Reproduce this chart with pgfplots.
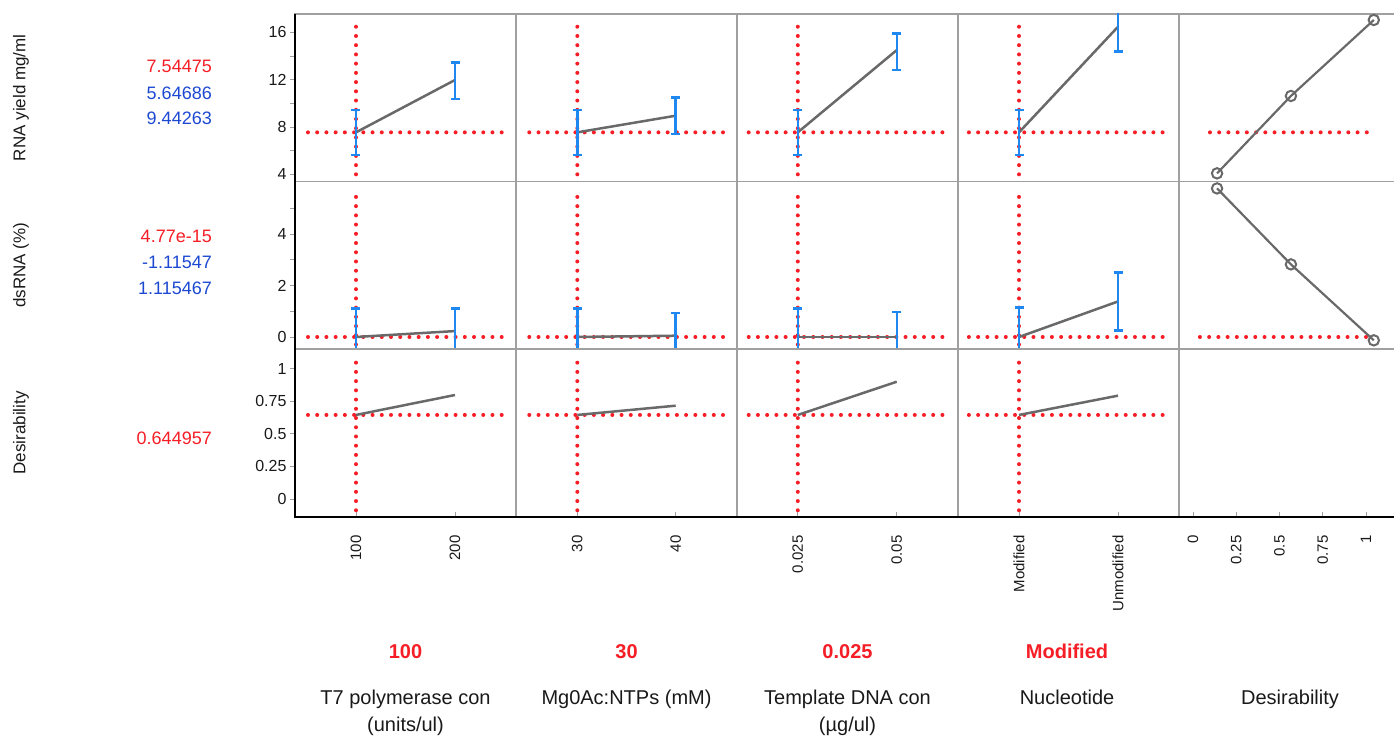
\documentclass[border=0pt]{standalone}
\usepackage{pgfplots}
\pgfplotsset{compat=1.18}
\usepackage{fontspec}
\setmainfont{Liberation Sans}
\definecolor{jred}{RGB}{246,30,38}
\definecolor{jblue}{RGB}{28,72,210}
\definecolor{ebblue}{RGB}{30,136,240}
\definecolor{lgray}{RGB}{105,105,105}
\definecolor{fgray}{RGB}{160,160,160}
\newcommand\ticklab{\fontsize{15}{17}\selectfont}
\newcommand\yticklab{\fontsize{16}{18}\selectfont}
\pgfplotsset{
  panel/.style={scale only axis, width=221pt, anchor=south west,
    axis line style={draw=fgray, line width=1.3pt},
    xtick=\empty, ytick=\empty, scaled ticks=false,
    tick align=outside,
    tick style={draw=fgray, line width=0.9pt},
    major tick length=5pt, minor tick length=5pt,
    tick label style={font=\ticklab, text=black!90},
    yticklabel style={font=\yticklab},
    /pgf/number format/assume math mode=true,
  },
  row1/.style={height=167.5pt, ymin=3.392, ymax=17.547},
  row2/.style={height=167.5pt, ymin=-0.466, ymax=6.039},
  row3/.style={height=168pt, ymin=-0.138, ymax=1.151},
  c1/.style={xmin=38.4, xmax=261.6},
  c2/.style={xmin=23.77, xmax=46.23},
  c3/.style={xmin=0.009646, xmax=0.065455},
  c4/.style={xmin=-0.616, xmax=1.616},
  c5/.style={xmin=-0.0809, xmax=1.1965, clip=false},
  left1/.style={ytick={4,8,12,16}, minor ytick={6,10,14}, yticklabels={4,8,12,16}, ytick pos=left},
  left2/.style={ytick={0,2,4}, minor ytick={1,3,5}, yticklabels={0,2,4}, ytick pos=left},
  left3/.style={ytick={0,0.25,0.5,0.75,1}, yticklabels={0,0.25,0.5,0.75,1}, ytick pos=left},
  bottom/.style={xtick pos=left,
    every major x tick/.append style={yshift=5pt},
    xticklabel style={rotate=90, anchor=east, xshift=-10pt}},
  reddot/.style={draw=jred, line width=4pt, line cap=round, dash pattern=on 0pt off 9.225pt, mark=none},
  gline/.style={draw=lgray, line width=2.5pt, mark=none},
  ebars/.style={error bars/.cd, y dir=both, y explicit,
    error mark=-,
    error bar style={draw=ebblue, line width=2.6pt},
    error mark options={rotate=90, draw=ebblue, line width=2.6pt, mark size=4.5pt}},
  circ/.style={draw=lgray, line width=2.2pt, mark=o, mark size=5.2pt, mark options={draw=lgray, line width=2pt}},
}
\begin{document}
\begin{tikzpicture}
\path[use as bounding box] (0pt,0pt) rectangle (1394pt,738pt);

% ---------------- Row 1: RNA yield ----------------
\begin{axis}[panel,row1,c1,left1,at={(295pt,556.5pt)}]
\addplot[reddot] coordinates {(51.5,7.54475) (248.5,7.54475)};
\addplot[reddot] coordinates {(100,16.47) (100,3.99)};
\addplot[gline,ebars] coordinates {(100,7.54475) += (0,1.89788) -= (0,1.89789) (200,11.97) += (0,1.49) -= (0,1.61)};
\end{axis}
\begin{axis}[panel,row1,c2,at={(516pt,556.5pt)}]
\addplot[reddot] coordinates {(25.12,7.54475) (44.84,7.54475)};
\addplot[reddot] coordinates {(30,16.47) (30,3.99)};
\addplot[gline,ebars] coordinates {(30,7.54475) += (0,1.89788) -= (0,1.89789) (40,8.95) += (0,1.52) -= (0,1.55)};
\end{axis}
\begin{axis}[panel,row1,c3,at={(737pt,556.5pt)}]
\addplot[reddot] coordinates {(0.0126,7.54475) (0.0622,7.54475)};
\addplot[reddot] coordinates {(0.025,16.47) (0.025,3.99)};
\addplot[gline,ebars] coordinates {(0.025,7.54475) += (0,1.89788) -= (0,1.89789) (0.05,14.5) += (0,1.42) -= (0,1.69)};
\end{axis}
\begin{axis}[panel,row1,c4,at={(958pt,556.5pt)}]
\addplot[reddot] coordinates {(-0.506,7.54475) (1.482,7.54475)};
\addplot[reddot] coordinates {(0,16.47) (0,3.99)};
\addplot[gline,ebars] coordinates {(0,7.54475) += (0,1.89788) -= (0,1.89789) (1,16.47) += (0,2.08) -= (0,2.08)};
\end{axis}
\begin{axis}[panel,row1,c5,at={(1179pt,556.5pt)}]
\addplot[reddot] coordinates {(0.098,7.54475) (1.046,7.54475)};
\addplot[circ] coordinates {(0.139,4.08) (0.566,10.62) (1.045,17.04)};
\end{axis}

% ---------------- Row 2: dsRNA ----------------
\begin{axis}[panel,row2,c1,left2,at={(295pt,389pt)}]
\addplot[reddot] coordinates {(51.5,0) (248.5,0)};
\addplot[reddot] coordinates {(100,5.44) (100,-0.295)};
\addplot[gline,ebars] coordinates {(100,0) +- (0,1.115467) (200,0.23) += (0,0.87) -= (0,1.0)};
\end{axis}
\begin{axis}[panel,row2,c2,at={(516pt,389pt)}]
\addplot[reddot] coordinates {(25.12,0) (44.84,0)};
\addplot[reddot] coordinates {(30,5.44) (30,-0.295)};
\addplot[gline,ebars] coordinates {(30,0) +- (0,1.115467) (40,0.05) += (0,0.88) -= (0,1.0)};
\end{axis}
\begin{axis}[panel,row2,c3,at={(737pt,389pt)}]
\addplot[reddot] coordinates {(0.0126,0) (0.0622,0)};
\addplot[reddot] coordinates {(0.025,5.44) (0.025,-0.295)};
\addplot[gline,ebars] coordinates {(0.025,0) +- (0,1.115467) (0.05,0.0) += (0,0.97) -= (0,1.0)};
\end{axis}
\begin{axis}[panel,row2,c4,at={(958pt,389pt)}]
\addplot[reddot] coordinates {(-0.506,0) (1.482,0)};
\addplot[reddot] coordinates {(0,5.44) (0,-0.295)};
\addplot[gline,ebars] coordinates {(0,0) +- (0,1.15) (1,1.38) += (0,1.12) -= (0,1.135)};
\end{axis}
\begin{axis}[panel,row2,c5,at={(1179pt,389pt)}]
\addplot[reddot] coordinates {(0.04,0) (1.046,0)};
\addplot[circ] coordinates {(0.139,5.77) (0.566,2.82) (1.045,-0.13)};
\end{axis}

% ---------------- Row 3: Desirability ----------------
\begin{axis}[panel,row3,c1,left3,bottom,at={(295pt,221pt)},
  xtick={100,200}, xticklabels={100,200}]
\addplot[reddot] coordinates {(51.5,0.644957) (248.5,0.644957)};
\addplot[reddot] coordinates {(100,1.046) (100,-0.09)};
\addplot[gline] coordinates {(100,0.644957) (200,0.798)};
\end{axis}
\begin{axis}[panel,row3,c2,bottom,at={(516pt,221pt)},
  xtick={30,40}, xticklabels={30,40}]
\addplot[reddot] coordinates {(25.12,0.644957) (44.84,0.644957)};
\addplot[reddot] coordinates {(30,1.046) (30,-0.09)};
\addplot[gline] coordinates {(30,0.644957) (40,0.716)};
\end{axis}
\begin{axis}[panel,row3,c3,bottom,at={(737pt,221pt)},
  xtick={0.025,0.05}, xticklabels={0.025,0.05}]
\addplot[reddot] coordinates {(0.0126,0.644957) (0.0622,0.644957)};
\addplot[reddot] coordinates {(0.025,1.046) (0.025,-0.09)};
\addplot[gline] coordinates {(0.025,0.644957) (0.05,0.90)};
\end{axis}
\begin{axis}[panel,row3,c4,bottom,at={(958pt,221pt)},
  xtick={0,1}, xticklabels={Modified,Unmodified}]
\addplot[reddot] coordinates {(-0.506,0.644957) (1.482,0.644957)};
\addplot[reddot] coordinates {(0,1.046) (0,-0.09)};
\addplot[gline] coordinates {(0,0.644957) (1,0.793)};
\end{axis}
\begin{axis}[panel,row3,c5,bottom,at={(1179pt,221pt)},
  xtick={0,0.25,0.5,0.75,1}, xticklabels={0,0.25,0.5,0.75,1}]
\end{axis}

% outer frame lines
\draw[black, line width=1.6pt] (295pt,724pt) -- (295pt,221pt) -- (1394pt,221pt);

% row labels
\begin{scope}[every node/.style={font=\fontsize{17}{20}\selectfont, text=black!90, rotate=90}]
\node at (21pt,640.2pt) {RNA yield mg/ml};
\node at (21pt,472.7pt) {dsRNA (\%)};
\node at (21pt,305pt) {Desirability};
\end{scope}

% current values
\begin{scope}[every node/.style={font=\fontsize{18}{20}\selectfont, anchor=base east, inner sep=0pt}]
\node[text=jred] at (212pt,665.7pt) {7.54475};
\node[text=jblue] at (212pt,638pt) {5.64686};
\node[text=jblue] at (212pt,613pt) {9.44263};
\node[text=jred] at (212pt,495.7pt) {4.77e-15};
\node[text=jblue] at (212pt,469.7pt) {-1.11547};
\node[text=jblue] at (212pt,443.7pt) {1.115467};
\node[text=jred] at (212pt,293.7pt) {0.644957};
\end{scope}

% factor settings
\begin{scope}[every node/.style={font=\fontsize{20}{22}\selectfont\bfseries, text=jred, anchor=base, inner sep=0pt}]
\node at (405.5pt,79.7pt) {100};
\node at (626.5pt,79.7pt) {30};
\node at (847.5pt,79.7pt) {0.025};
\node at (1067pt,79.7pt) {Modified};
\end{scope}

% factor names
\begin{scope}[every node/.style={font=\fontsize{20}{22}\selectfont, text=black!90, anchor=base, inner sep=0pt}]
\node at (405.5pt,33pt) {T7 polymerase con};
\node at (405.5pt,6pt) {(units/ul)};
\node at (626.5pt,33pt) {Mg0Ac:NTPs (mM)};
\node at (847.5pt,33pt) {Template DNA con};
\node at (847.5pt,6pt) {(µg/ul)};
\node at (1067pt,33pt) {Nucleotide};
\node at (1290pt,33pt) {Desirability};
\end{scope}
\end{tikzpicture}
\end{document}
